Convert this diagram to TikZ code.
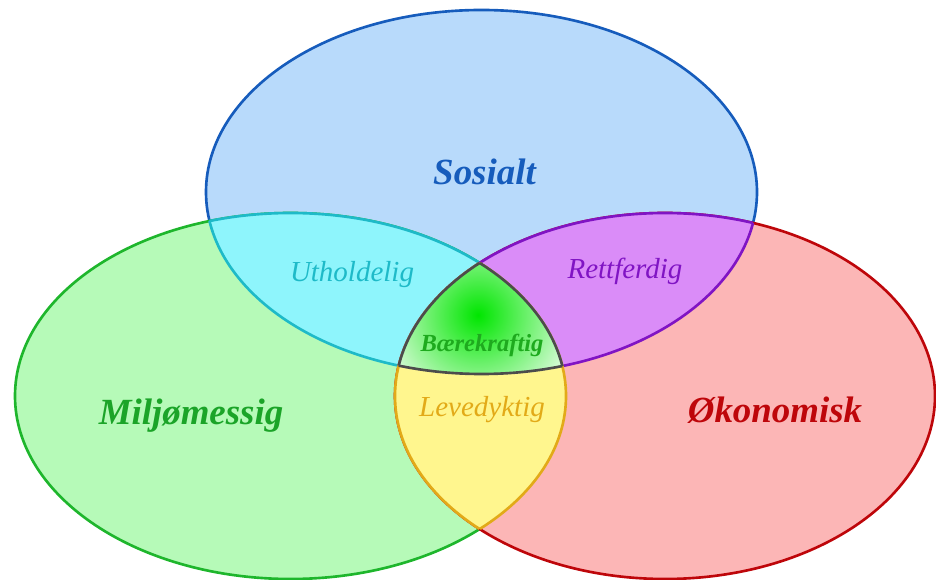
\documentclass[tikz,border=0pt]{standalone}
\usepackage{fontspec}
\setmainfont{Liberation Serif}
\usepackage{tikz}
\usetikzlibrary{shapes}

\definecolor{sosfill}{RGB}{184,218,251}
\definecolor{sosline}{RGB}{22,92,188}
\definecolor{milfill}{RGB}{182,250,184}
\definecolor{milline}{RGB}{30,182,44}
\definecolor{okofill}{RGB}{252,182,182}
\definecolor{okoline}{RGB}{190,6,10}
\definecolor{utfill}{RGB}{142,245,252}
\definecolor{utline}{RGB}{30,186,200}
\definecolor{retfill}{RGB}{218,140,248}
\definecolor{retline}{RGB}{128,20,196}
\definecolor{levfill}{RGB}{255,246,142}
\definecolor{levline}{RGB}{226,170,24}
\definecolor{bkgreen}{RGB}{0,230,0}
\definecolor{bkline}{RGB}{76,76,76}
\definecolor{bktext}{RGB}{30,170,30}

\tikzset{
  sos ring/.style={insert path={(481.5,192) ellipse [x radius=275.5, y radius=182]}},
  mil ring/.style={insert path={(290.5,396) ellipse [x radius=275.5, y radius=183]}},
  oko ring/.style={insert path={(665,396) ellipse [x radius=270, y radius=183]}},
  big label/.style={font=\fontsize{21}{25}\selectfont\bfseries\itshape, anchor=base},
  pair label/.style={font=\fontsize{16.5}{20}\selectfont\itshape, anchor=base},
  mid label/.style={font=\fontsize{14}{17}\selectfont\bfseries\itshape, anchor=base}
}

\begin{document}
\begin{tikzpicture}[x=0.02cm, y=-0.02cm, line width=1.5pt]
    \tikzstyle{every node}+=[inner sep=0pt]
    \useasboundingbox (0,0) rectangle (936,580);
    \filldraw [fill=sosfill, draw=sosline, sos ring];
    \filldraw [fill=milfill, draw=milline, mil ring];
    \filldraw [fill=okofill, draw=okoline, oko ring];
    % Sosialt + Miljomessig
    \begin{scope}
      \clip [sos ring];
      \filldraw [fill=utfill, draw=utline, mil ring];
    \end{scope}
    \begin{scope}
      \clip [mil ring];
      \draw [utline, sos ring];
    \end{scope}
    % Sosialt + Okonomisk
    \begin{scope}
      \clip [sos ring];
      \filldraw [fill=retfill, draw=retline, oko ring];
    \end{scope}
    \begin{scope}
      \clip [oko ring];
      \draw [retline, sos ring];
    \end{scope}
    % Miljomessig + Okonomisk
    \begin{scope}
      \clip [mil ring];
      \filldraw [fill=levfill, draw=levline, oko ring];
    \end{scope}
    \begin{scope}
      \clip [oko ring];
      \draw [levline, mil ring];
    \end{scope}
    % all three
    \begin{scope}
      \clip [sos ring];
      \clip [mil ring];
      \clip [oko ring];
      \fill [white] (0,0) rectangle (936,580);
      \shade [inner color=bkgreen, outer color=white] (478,315) circle [radius=115];
    \end{scope}
    \begin{scope}
      \clip [mil ring];
      \clip [oko ring];
      \draw [bkline, sos ring];
    \end{scope}
    \begin{scope}
      \clip [sos ring];
      \clip [oko ring];
      \draw [bkline, mil ring];
    \end{scope}
    \begin{scope}
      \clip [sos ring];
      \clip [mil ring];
      \draw [bkline, oko ring];
    \end{scope}
    \node [big label, text=sosline] (sosialt) at (484.5,185) {Sosialt};
    \node [big label, text=milline!90!black] (miljo) at (191,425) {Miljømessig};
    \node [big label, text=okoline] (okonomi) at (775,423) {Økonomisk};
    \node [pair label, text=utline] (uthold) at (352,282) {Utholdelig};
    \node [pair label, text=retline] (rettferd) at (625,279) {Rettferdig};
    \node [pair label, text=levline] (levedykt) at (482,417) {Levedyktig};
    \node [mid label, text=bktext] (baere) at (482,352) {Bærekraftig};
\end{tikzpicture}
\end{document}
